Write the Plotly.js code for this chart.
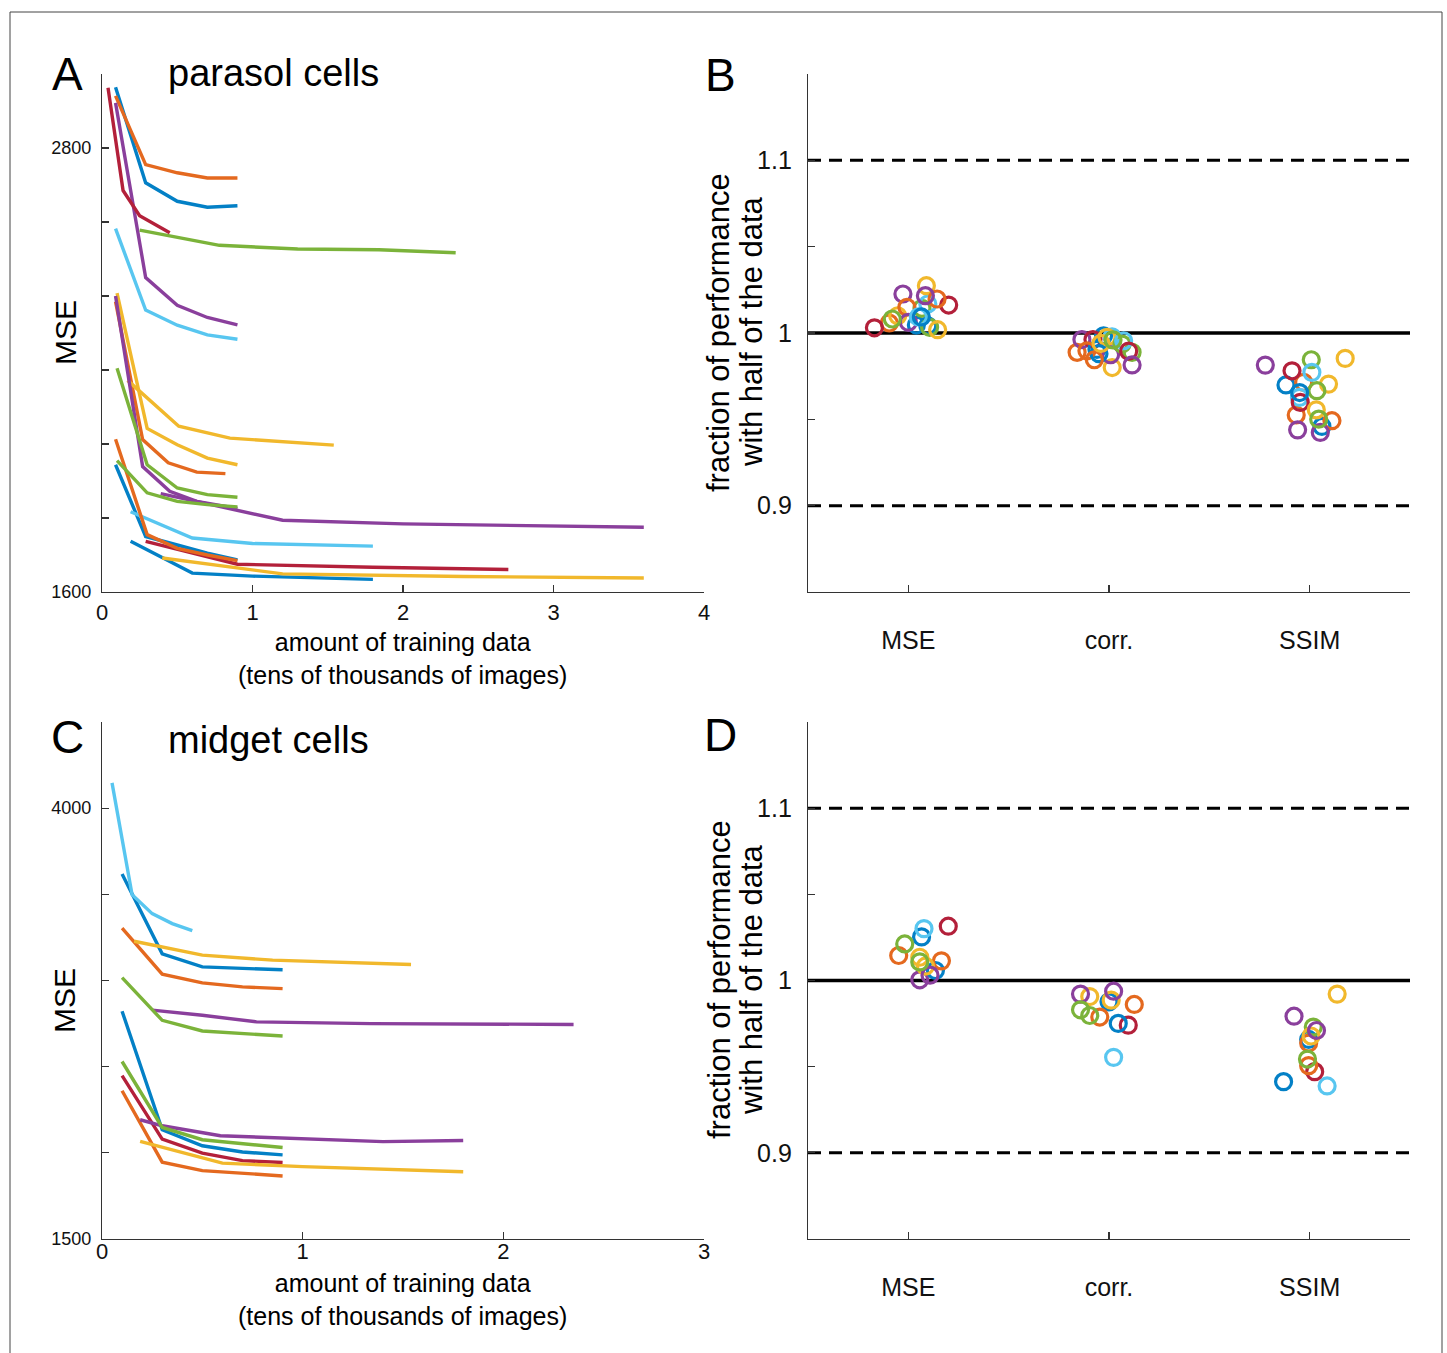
<!DOCTYPE html>
<html>
<head>
<meta charset="utf-8">
<script src="https://cdn.plot.ly/plotly-3.0.1.min.js"></script>
<style>html,body{margin:0;padding:0;background:#fff;}#chart{width:1447px;height:1353px;}</style>
</head>
<body>
<div id="chart"></div>
<script>
// ---------------- DATA ----------------
// Panel A: parasol cells, MSE vs amount of training data (tens of thousands of images), one curve per cell
const parasolX = [
  [0.09,0.29,0.5,0.7,0.9],
  [0.09,0.29,0.5,0.7,0.9],
  [0.1,0.3,0.5,0.7,0.9],
  [0.09,0.29,0.5,0.7,0.9],
  [0.25,0.5,0.78,1.3,1.84,2.35],
  [0.09,0.29,0.5,0.7,0.9],
  [0.04,0.14,0.25,0.45],
  [0.09,0.29,0.5,0.7,0.9],
  [0.09,0.27,0.44,0.63,0.82],
  [0.17,0.51,0.85,1.54],
  [0.09,0.27,0.45,0.63,0.9],
  [0.1,0.3,0.5,0.7,0.9],
  [0.19,0.6,1.0,1.8],
  [0.29,0.9,1.8,2.7],
  [0.19,0.6,1.0,1.8],
  [0.09,0.3,0.5,0.7,0.9],
  [0.4,1.2,2.4,3.6],
  [0.39,1.2,2.0,3.6],
  [0.1,0.3,0.5,0.7,0.9]
];
const parasolMSE = [
  [2964,2706,2656,2640,2644],
  [2941,2755,2733,2719,2719],
  [2408,2042,1998,1962,1944],
  [2922,2450,2375,2342,2322],
  [2578,2559,2537,2527,2525,2517],
  [2582,2362,2321,2295,2283],
  [2963,2685,2617,2571],
  [1944,1750,1727,1705,1687],
  [2385,2012,1949,1924,1920],
  [2172,2048,2016,1997],
  [2400,1939,1872,1845,1826],
  [2205,1944,1881,1863,1856],
  [1817,1746,1731,1724],
  [1737,1675,1667,1661],
  [1737,1651,1643,1634],
  [2013,1755,1718,1700,1685],
  [1692,1649,1642,1638],
  [1866,1794,1784,1775],
  [1955,1868,1845,1836,1830]
];
// Panel C: midget cells
const midgetX = [
  [0.1,0.3,0.5,0.7,0.9],
  [0.1,0.3,0.5,0.7,0.9],
  [0.16,0.5,0.85,1.54],
  [0.25,0.5,0.77,1.34,2.35],
  [0.1,0.3,0.5,0.9],
  [0.05,0.15,0.25,0.35,0.45],
  [0.1,0.3,0.5,0.7,0.9],
  [0.1,0.3,0.5,0.7,0.9],
  [0.1,0.3,0.5,0.9],
  [0.19,0.6,1.0,1.8],
  [0.19,0.3,0.59,1.0,1.4,1.8],
  [0.1,0.3,0.5,0.9]
];
const midgetMSE = [
  [3618,3155,3079,3068,3062],
  [3304,3037,2986,2963,2953],
  [3228,3147,3118,3093],
  [2828,2798,2760,2750,2745],
  [3017,2769,2707,2678],
  [4147,3498,3388,3330,3290],
  [2448,2080,1998,1955,1944],
  [2822,2134,2041,2005,1988],
  [2360,1946,1897,1866],
  [2066,1940,1920,1890],
  [2192,2157,2099,2083,2065,2072],
  [2530,2147,2076,2031]
];
// Panels B and D: fraction of performance with half of the data (one point per cell, jittered around each metric)
const metrics = ['MSE', 'corr.', 'SSIM'];
const metricPos = [1, 2, 3];
const refLevels = [0.9, 1.0, 1.1];
const bMseX  = [1.04,0.905,0.947,0.973,1.068,1.097,0.831,1.097,0.993,1.09,1.0,1.106,1.05,1.201,1.065,1.143,1.146,1.085,0.92];
const bMseY  = [1.0046,1.0058,1.0100,1.0226,1.0143,1.0168,1.0030,1.0042,1.0149,1.0274,1.0062,1.0033,1.0093,1.0162,1.0093,1.0197,1.0019,1.0216,1.0081];
const bCorrX = [1.973,1.841,2.016,1.865,2.115,2.015,1.92,1.94,1.89,1.99,2.008,2.065,2.073,2.098,1.95,1.927,1.96,2.115,2.02];
const bCorrY = [0.9984,0.9888,0.9800,0.9962,0.9888,0.9978,0.9962,0.9905,0.9897,0.9975,0.9874,0.9936,0.9955,0.9895,0.9880,0.9845,0.9940,0.9815,0.9960];
const bSsimX = [2.882,2.970,3.177,2.779,3.008,3.011,2.912,3.061,2.933,3.094,2.940,3.036,2.949,2.953,2.95,3.111,3.033,3.053,3.045];
const bSsimY = [0.9699,0.9714,0.9853,0.9814,0.9845,0.9772,0.9781,0.9459,0.9525,0.9704,0.9439,0.9666,0.9627,0.9598,0.9655,0.9492,0.9555,0.9424,0.9501];
const dMseX  = [1.066,0.952,1.057,1.057,0.982,1.078,1.199,1.135,1.165,1.085,1.108,1.057];
const dMseY  = [1.0253,1.0145,1.0135,1.0004,1.0212,1.0301,1.0315,1.0058,1.0114,1.0083,1.0031,1.0108];
const dCorrX = [2.0,2.126,1.904,1.858,1.858,2.023,2.096,2.046,1.954,2.011,2.023,1.904];
const dCorrY = [0.9876,0.9861,0.9907,0.9921,0.9830,0.9554,0.9741,0.9751,0.9788,0.9886,0.9938,0.9797];
const dSsimX = [2.995,2.995,3.137,2.922,3.018,3.087,3.025,2.87,2.995,3.007,3.034,2.989];
const dSsimY = [0.9658,0.9637,0.9921,0.9793,0.9730,0.9388,0.9471,0.9413,0.9506,0.9678,0.9710,0.9544];
// tick values and labels
const parasolYTicks = [1600,1800,2000,2200,2400,2600,2800,3000];
const parasolYTickText = ['1600','','','','','','2800',''];
const parasolXTicks = [0,1,2,3,4];
const midgetYTicks = [1500,2000,2500,3000,3500,4000,4500];
const midgetYTickText = ['1500','','','','','4000',''];
const midgetXTicks = [0,1,2,3];
const fracTicks = [0.85,0.9,0.95,1.0,1.05,1.1,1.15];
const fracTickText = ['','0.9','','1','','1.1',''];

// ---------------- STYLE ----------------
const palette = ['#0380C6','#E4691F','#F1B82C','#8A3F9C','#7BB33A','#58C6F0','#B3203A'];
const W = 1447, H = 1353;
const FONT = '"Liberation Sans", Arial, Helvetica, sans-serif';
const AX = '#333333';
const px = v => v / W;
const py = v => 1 - v / H;

const traces = [];
parasolX.forEach((xs, i) => traces.push({
  type: 'scatter', mode: 'lines', x: xs, y: parasolMSE[i], xaxis: 'x', yaxis: 'y',
  line: {color: palette[i % 7], width: 3.4}, showlegend: false, hoverinfo: 'skip'
}));
midgetX.forEach((xs, i) => traces.push({
  type: 'scatter', mode: 'lines', x: xs, y: midgetMSE[i], xaxis: 'x3', yaxis: 'y3',
  line: {color: palette[i % 7], width: 3.4}, showlegend: false, hoverinfo: 'skip'
}));
function addPoints(xs, ys, xa, ya) {
  traces.push({
    type: 'scatter', mode: 'markers', x: xs, y: ys, xaxis: xa, yaxis: ya,
    marker: {symbol: 'circle-open', size: 16, color: xs.map((_, i) => palette[i % 7]), line: {width: 3.2}},
    showlegend: false, hoverinfo: 'skip'
  });
}
addPoints(bMseX, bMseY, 'x2', 'y2');
addPoints(bCorrX, bCorrY, 'x2', 'y2');
addPoints(bSsimX, bSsimY, 'x2', 'y2');
addPoints(dMseX, dMseY, 'x4', 'y4');
addPoints(dCorrX, dCorrY, 'x4', 'y4');
addPoints(dSsimX, dSsimY, 'x4', 'y4');

function xAxis(domain, anchor, range, extra) {
  return Object.assign({
    domain: domain, anchor: anchor, range: range, showgrid: false, zeroline: false,
    showline: true, linecolor: AX, linewidth: 1.2, ticks: 'inside', ticklen: 7, tickwidth: 1.2, tickcolor: AX,
    tickfont: {family: FONT, size: 22, color: '#111'}, fixedrange: true
  }, extra);
}
function yAxis(domain, anchor, range, extra) {
  return Object.assign({
    domain: domain, anchor: anchor, range: range, showgrid: false, zeroline: false,
    showline: true, linecolor: AX, linewidth: 1.2, ticks: 'inside', ticklen: 7, tickwidth: 1.2, tickcolor: AX,
    tickfont: {family: FONT, size: 18, color: '#111'}, fixedrange: true
  }, extra);
}
const xdomL = [px(102), px(704)], xdomR = [px(808), px(1410)];
const ydomTop = [py(592), py(74)], ydomBot = [py(1239), py(722)];

const shapes = [];
[['x2','y2'],['x4','y4']].forEach(([xa, ya]) => {
  refLevels.forEach(lv => shapes.push({
    type: 'line', xref: xa + ' domain', yref: ya, x0: 0, x1: 1, y0: lv, y1: lv,
    line: {color: '#000', width: lv === 1 ? 3.5 : 3, dash: lv === 1 ? 'solid' : '13px,8px'}, layer: 'below'
  }));
});
shapes.push({type: 'rect', xref: 'paper', yref: 'paper', x0: px(10), x1: px(1442), y0: -0.02, y1: py(12),
  line: {color: '#444', width: 1}, fillcolor: 'rgba(0,0,0,0)'});

function ann(text, x, y, size, extra) {
  return Object.assign({text: text, xref: 'paper', yref: 'paper', x: px(x), y: py(y), showarrow: false,
    xanchor: 'center', yanchor: 'middle', font: {family: FONT, size: size, color: '#000'}}, extra || {});
}
const xTitle = 'amount of training data<br>(tens of thousands of images)';
const annotations = [
  ann('A', 67, 74, 46), ann('parasol cells', 273, 73, 38),
  ann('B', 720, 75, 46),
  ann('C', 67, 737, 46), ann('midget cells', 268, 740, 38),
  ann('D', 720, 735, 46),
  ann('MSE', 66, 333, 30, {textangle: -90}),
  ann('MSE', 64, 1001, 30, {textangle: -90}),
  ann(xTitle, 402, 658, 25),
  ann(xTitle, 402, 1299, 25),
  ann('fraction of performance', 719, 333, 31, {textangle: -90}), ann('with half of the data', 751, 331, 31, {textangle: -90}),
  ann('fraction of performance', 719, 980, 31, {textangle: -90}), ann('with half of the data', 751, 979, 31, {textangle: -90})
];

const layout = {
  width: W, height: H, margin: {l: 0, r: 0, t: 0, b: 0},
  paper_bgcolor: '#fff', plot_bgcolor: 'rgba(0,0,0,0)', showlegend: false,
  font: {family: FONT, color: '#000'},
  xaxis: xAxis(xdomL, 'y', [0, 4], {tickvals: parasolXTicks, ticklabelstandoff: 0}),
  yaxis: yAxis(ydomTop, 'x', [1600, 3000], {tickvals: parasolYTicks, ticktext: parasolYTickText, ticklabelstandoff: 6}),
  xaxis2: xAxis(xdomR, 'y2', [0.5, 3.5], {tickvals: metricPos, ticktext: metrics, tickfont: {family: FONT, size: 25, color: '#111'}, ticklabelstandoff: 26}),
  yaxis2: yAxis(ydomTop, 'x2', [0.85, 1.15], {tickvals: fracTicks, ticktext: fracTickText, tickfont: {family: FONT, size: 25, color: '#111'}, ticklabelstandoff: 10}),
  xaxis3: xAxis(xdomL, 'y3', [0, 3], {tickvals: midgetXTicks, ticklabelstandoff: -8}),
  yaxis3: yAxis(ydomBot, 'x3', [1500, 4500], {tickvals: midgetYTicks, ticktext: midgetYTickText, ticklabelstandoff: 6}),
  xaxis4: xAxis(xdomR, 'y4', [0.5, 3.5], {tickvals: metricPos, ticktext: metrics, tickfont: {family: FONT, size: 25, color: '#111'}, ticklabelstandoff: 26}),
  yaxis4: yAxis(ydomBot, 'x4', [0.85, 1.15], {tickvals: fracTicks, ticktext: fracTickText, tickfont: {family: FONT, size: 25, color: '#111'}, ticklabelstandoff: 10}),
  shapes: shapes,
  annotations: annotations
};
Plotly.newPlot('chart', traces, layout, {staticPlot: true, displayModeBar: false});
</script>
</body>
</html>
